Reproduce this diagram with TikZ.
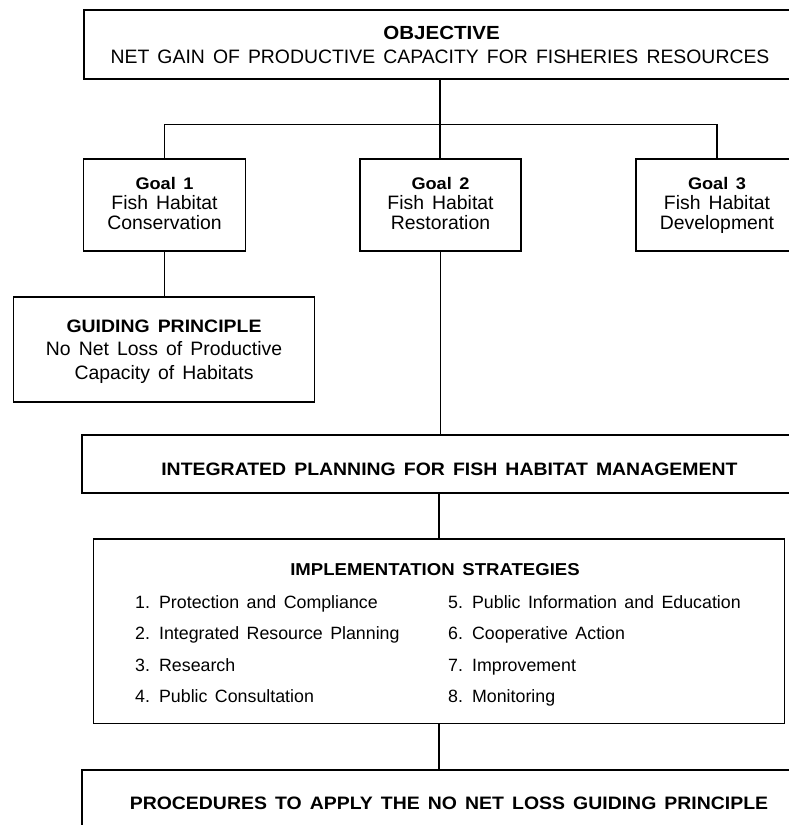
\documentclass[tikz,border=0pt]{standalone}
\usepackage{fontspec}
\setmainfont{Liberation Sans}[WordSpace=1.5, BoldFeatures={FakeStretch=1.08}]
\tikzset{
  box/.style={draw, line width=1.8pt, inner sep=0pt},
  conn/.style={line width=1.8pt},
  txt/.style={inner sep=0pt, anchor=base, font=\fontsize{19.4}{21}\selectfont},
  hd/.style={inner sep=0pt, anchor=base, font=\bfseries\fontsize{18}{20}\selectfont},
  goalhd/.style={inner sep=0pt, anchor=base, font=\bfseries\fontsize{16.8}{18}\selectfont},
  item/.style={inner sep=0pt, anchor=base west, font=\fontsize{17.8}{19}\selectfont}
}
\begin{document}
\begin{tikzpicture}[x=1pt, y=-1pt]
\useasboundingbox (0,0) rectangle (789,825);
\clip (0,0) rectangle (789,825);

% boxes
\node[box, minimum width=712, minimum height=69] (obj) at (440,44.5) {};
\node[box, minimum width=162, minimum height=92] (g1) at (164.5,205) {};
\node[box, minimum width=161, minimum height=92] (g2) at (440.5,205) {};
\node[box, minimum width=162, minimum height=92] (g3) at (717,205) {};
\node[box, minimum width=301, minimum height=105] (gp) at (164,349.5) {};
\node[box, minimum width=736, minimum height=58] (int) at (450,464) {};
\node[box, minimum width=691, minimum height=184.5] (impl) at (439,631.25) {};
\node[box, minimum width=736, minimum height=90] (proc) at (450,815) {};

% connectors
\coordinate (bar) at (0,124.5);
\draw[conn] (obj.south) -- (obj.south |- g2.north);
\draw[conn] (g1.north) -- (g1.north |- bar) -- (g3.north |- bar) -- (g3.north);
\draw[conn] (g1.south) -- (g1.south |- gp.north);
\draw[conn] (g2.south) -- (g2.south |- int.north);
\draw[conn] (int.south -| impl.north) -- (impl.north);
\draw[conn] (impl.south) -- (impl.south |- proc.north);

% texts
\node[hd, font=\bfseries\fontsize{19}{20}\selectfont] (tobj1) at (441.6,39.3) {OBJECTIVE};
\node[txt] (tobj2) at (440,63.3) {NET GAIN OF PRODUCTIVE CAPACITY FOR FISHERIES RESOURCES};

\node[goalhd] (tg1a) at (164.5,189.3) {Goal 1};
\node[txt] (tg1b) at (164.5,209.5) {Fish Habitat};
\node[txt] (tg1c) at (164.5,229.7) {Conservation};

\node[goalhd] (tg2a) at (440.5,189.3) {Goal 2};
\node[txt] (tg2b) at (440.5,209.5) {Fish Habitat};
\node[txt] (tg2c) at (440.5,229.7) {Restoration};

\node[goalhd] (tg3a) at (717,189.3) {Goal 3};
\node[txt] (tg3b) at (717,209.5) {Fish Habitat};
\node[txt] (tg3c) at (717,229.7) {Development};

\node[hd] (tgpa) at (164,332) {GUIDING PRINCIPLE};
\node[txt] (tgpb) at (164,355.5) {No Net Loss of Productive};
\node[txt] (tgpc) at (164,379) {Capacity of Habitats};

\node[hd] (tint) at (449.4,475) {INTEGRATED PLANNING FOR FISH HABITAT MANAGEMENT};

\node[hd, font=\bfseries\fontsize{17.2}{19}\selectfont] (timpl) at (435,575) {IMPLEMENTATION STRATEGIES};
\node[item] (i1) at (135,608.3) {1. Protection and Compliance};
\node[item] (i2) at (135,639.3) {2. Integrated Resource Planning};
\node[item] (i3) at (135,671.3) {3. Research};
\node[item] (i4) at (135,702.8) {4. Public Consultation};
\node[item] (i5) at (448,608.3) {5. Public Information and Education};
\node[item] (i6) at (448,639.3) {6. Cooperative Action};
\node[item] (i7) at (448,671.3) {7. Improvement};
\node[item] (i8) at (448,702.8) {8. Monitoring};

\node[hd] (tproc) at (449,809) {PROCEDURES TO APPLY THE NO NET LOSS GUIDING PRINCIPLE};
\end{tikzpicture}
\end{document}
